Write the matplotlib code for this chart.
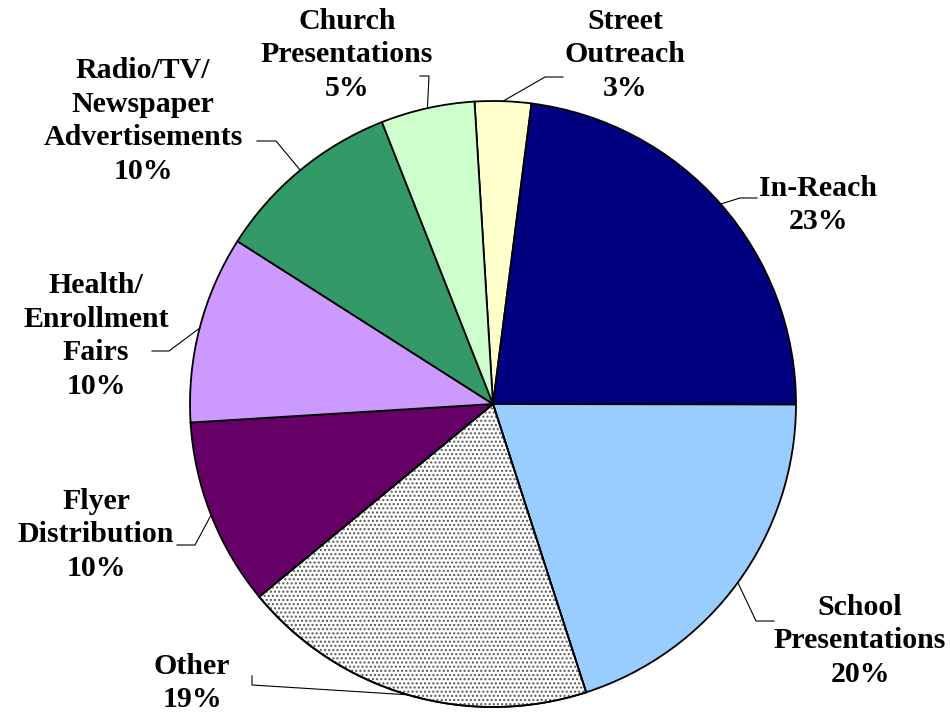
import numpy as np
import matplotlib
matplotlib.use("Agg")
import matplotlib.pyplot as plt
from matplotlib.patches import Wedge

# outreach methods, clockwise from the top
methods = ["Street\nOutreach", "In-Reach", "School\nPresentations", "Other",
           "Flyer\nDistribution", "Health/\nEnrollment\nFairs",
           "Radio/TV/\nNewspaper\nAdvertisements", "Church\nPresentations"]
shares = [3, 23, 20, 19, 10, 10, 10, 5]
colors = ["#FFFFCC", "#000080", "#99CCFF", "#FFFFFF",
          "#660066", "#CC99FF", "#339966", "#CCFFCC"]

# label block centres, leader elbows and leader ends (pixel layout, y down)
label_xy = [(625, 55), (818, 205), (860, 641), (192, 683),
            (96, 535), (96, 336), (143, 121), (347, 55)]
elbow_xy = [(545, 77), (740, 198), (756, 621), (252, 685),
            (195, 545), (169, 351), (276, 141), (429, 76)]
end_xy = [(563, 77), (757, 198), (774, 621), (252, 676),
          (177, 545), (152, 351), (257, 141), (420, 76)]

W, H = 950, 714
fig = plt.figure(figsize=(9.5, 7.14), dpi=100)
ax = fig.add_axes([0, 0, 1, 1])

cx, cy, r = 493, H - 404, 303
wedges, _ = ax.pie(shares, colors=colors, startangle=93.5, counterclock=False,
                   center=(cx, cy), radius=r, frame=True,
                   wedgeprops=dict(edgecolor="black", linewidth=1.3))
ax.set_xlim(0, W)
ax.set_ylim(0, H)
ax.set_aspect("equal")
ax.axis("off")

# dotted fill for "Other"
other = wedges[3]
dots = Wedge(other.center, other.r, other.theta1, other.theta2,
             facecolor="none", edgecolor="#555555", hatch="....", linewidth=0)
ax.add_patch(dots)
ax.add_patch(Wedge(other.center, other.r, other.theta1, other.theta2,
                   facecolor="none", edgecolor="black", linewidth=1.3))

for w, name, val, (tx, ty), (ex, ey), (fx, fy) in zip(
        wedges, methods, shares, label_xy, elbow_xy, end_xy):
    mid = np.deg2rad((w.theta1 + w.theta2) / 2)
    sx, sy = cx + r * np.cos(mid), cy + r * np.sin(mid)
    ax.plot([sx, ex, fx], [sy, H - ey, H - fy], color="black", lw=0.8)
    ax.text(tx, H - ty, f"{name}\n{val}%", ha="center", va="center",
            fontsize=21.5, fontweight="bold", family="Liberation Serif",
            linespacing=1.33)

fig.savefig("out.png", dpi=100)
